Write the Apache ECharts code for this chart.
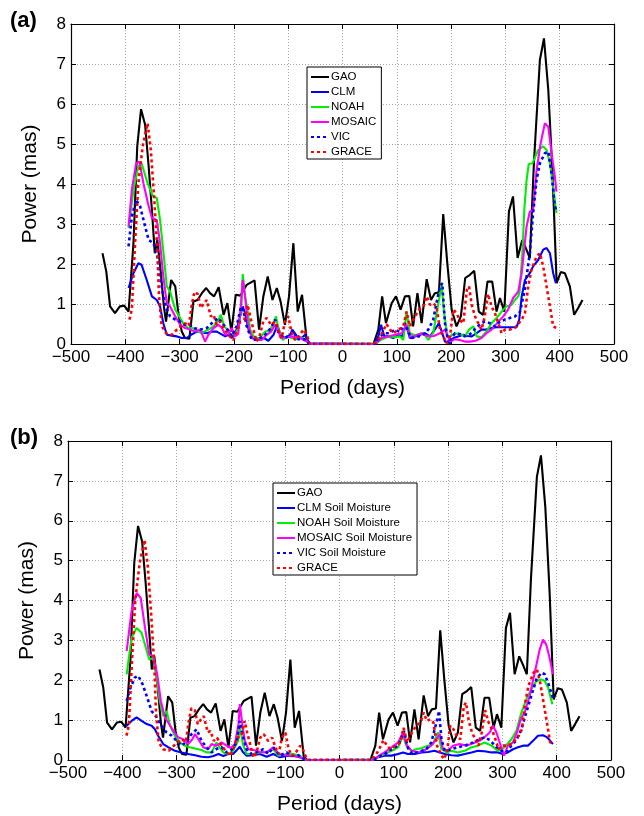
<!DOCTYPE html>
<html>
<head>
<meta charset="utf-8">
<title>Polar motion excitation power spectra</title>
<script src="https://cdn.jsdelivr.net/npm/echarts@6/dist/echarts.min.js"></script>
<style>
  html, body { margin: 0; padding: 0; background: #ffffff; }
  #chart { width: 644px; height: 816px; }
</style>
</head>
<body>
<div id="chart"></div>
<script>
// ---- Atmospheric + oceanic (GAO) reference, used in both panels ----
const gaoPeriod = [-442,-435,-428,-419,-410,-402,-394,-385,-378,-371,-363.5,-357,-351,-345.7,-341,-334.5,-329,-325,-315.6,-308,-302,-296,-290,-282,-274.6,-267,-259,-251,-244,-236.5,-228,-219,-212,-204.6,-196.6,-188,-176.5,-162,-153.7,-145.8,-137.7,-129,-121,-114,-106,-98.5,-90.5,-82.5,-74.5,-66,-60,
  57,66,73,80,90.5,98.5,107,115,123,130,138,145.7,155,163,170,177.6,185.5,193,201,210,218,226,234.7,242.6,251,259,267,275.7,283.7,290,298,306.5,314,322.5,331,339,345,352.5,363.5,371,379,387,394.4,402,409.5,418.7,426.6,434,442];
const gaoPower = [2.27,1.81,0.94,0.77,0.94,0.96,0.81,2.52,4.94,5.87,5.48,4.44,3.35,2.27,2.6,1.77,0.94,0.56,1.6,1.44,0.73,0.31,0.15,0.13,1.06,1.1,1.27,1.4,1.27,1.19,1.42,0.73,1.02,0.31,1.23,1.21,1.48,1.59,0.36,1.19,1.69,1.1,1.4,1.06,0.48,1.19,2.52,0.81,1.23,0.1,0,
  0,0.36,1.19,0.52,1.02,1.19,0.86,1.19,1.2,0.44,1.27,0.52,1.62,1.1,1.27,1.29,3.25,2.02,0.86,0.44,0.69,1.65,1.73,1.83,0.81,0.73,1.56,1.56,0.81,1.15,0.81,3.31,3.69,2.15,2.6,2.35,2.15,4.52,7.1,7.64,6.35,4.19,1.52,1.8,1.77,1.44,0.73,0.9,1.1];

// ---- GRACE observation, used in both panels ----
const gracePeriod = [-392.4,-388,-382,-376,-368,-359,-353,-347,-341,-338,-333,-325,-314.5,-305,-298,-290,-283,-277.6,-272.7,-266.5,-261,-255,-250,-242.6,-237.6,-231.5,-225.5,-219,-210,-201,-194.7,-188.6,-181,-174.7,-170,-164,-158,-152,-146,-139.6,-131.6,-124,-118,-112,-106,-99.7,-93.6,-87.4,-80,-72,-66,-60,
  57,66,74,81,88,93.5,103,112,118,124,133.6,141,149,155,161,167,173,179.5,185.5,192,198,204,210,216,222.5,229,233,238,244,250,256,262,268,274.6,280.7,287,293,299,308,317.5,330,336,342,348,357.4,363.5,369.6,375.8,382,388,394];
const gracePower = [0.61,0.86,2.52,4.02,4.94,5.52,4.85,3.69,2.36,1.2,0.45,0.27,0.23,0.36,0.44,0.52,0.45,0.98,1.3,1.25,0.9,1.02,1.1,0.69,0.73,0.48,0.56,0.4,0.23,0.1,0.31,0.56,0.6,0.98,0.69,0.36,0.06,0.23,0.56,0.65,0.48,0.56,0.31,0.15,0.56,0.69,0.27,0.1,0.2,0.36,0.23,0,
  0,0.1,0.3,0.5,0.35,0.27,0.36,0.44,0.81,0.44,0.69,0.86,0.94,1.19,0.98,1.02,0.94,0.36,0.19,0.02,0.19,0.86,0.77,0.6,0.52,1.36,1.44,0.98,0.69,0.52,0.36,0.69,1.25,0.94,0.77,0.52,0.27,0.36,0.36,0.4,0.61,0.77,1.44,1.86,2.19,2.27,1.94,1.44,0.94,0.44,0.4];

// ---- Panel (a): total land water storage from GLDAS models ----
const clmPeriod = [-394,-385,-376,-370,-360.5,-351,-342,-336,-330,-323.6,-314.5,-305,-296,-287,-279,-268,-259,-250,-241,-231.5,-216,-210,-204,-195,-188.6,-183.7,-179.5,-173,-165,-155,-144.5,-136.5,-127,-120,-114,-106,-96.6,-92.4,-84,-75,-69,-61,
  58,66,71,77,84,93.5,103,110,117,124,133.4,143,152,161,170,177.6,183,188.7,198,204,213,222.5,230,238,247,256,265,274.6,283.8,293,302,311.5,320.6,325.5,330,336,345,351,360.4,369.6,375.8,382,388,393];
const clmPower = [1.4,1.77,2.02,1.98,1.6,1.19,1.1,0.94,0.52,0.23,0.21,0.19,0.15,0.15,0.23,0.31,0.29,0.27,0.31,0.31,0.19,0.23,0.15,0.36,0.69,0.94,0.77,0.36,0.15,0.1,0.15,0.08,0.23,0.48,0.23,0.15,0.23,0.36,0.19,0.15,0.23,0.02,
  0,0.19,0.48,0.19,0.19,0.15,0.23,0.19,0.48,0.15,0.19,0.23,0.27,0.19,0.36,0.52,0.3,0.06,0.02,0.15,0.19,0.23,0.2,0.19,0.27,0.36,0.36,0.4,0.42,0.42,0.42,0.42,0.42,0.61,1.19,1.6,1.77,1.94,2.1,2.36,2.4,2.27,1.77,1.52];

const noahPeriod = [-394,-385,-376,-370,-359,-349,-342,-336,-329,-323.6,-317.5,-308,-299,-292,-284,-275.8,-267,-257.5,-247,-237.6,-228.5,-224,-218,-212,-205.8,-198,-191.8,-186.8,-183.7,-179.5,-175,-170,-162,-152,-142.6,-134,-127,-122.4,-118,-110,-102.7,-93.6,-84,-72,-61,
  63,70,78,87,96,106,112,118,124,133,141,149,158,167,175,182.6,187,193,198,207,216,225.5,233,241,247,256,265,274.6,283.8,293,302,311.4,317.5,323.6,326,331,335,339,343,350,360.4,369.6,375.8,382,388,394];
const noahPower = [2.9,3.85,4.44,4.52,4.02,3.69,3.65,3.1,2.19,1.44,1.31,0.86,0.65,0.48,0.4,0.4,0.31,0.29,0.36,0.44,0.61,0.73,0.44,0.36,0.23,0.25,0.4,0.86,1.75,1.2,0.86,0.36,0.15,0.15,0.31,0.33,0.52,0.69,0.36,0.1,0.19,0.15,0.12,0.15,0,
  0.02,0.1,0.15,0.19,0.17,0.19,0.1,0.81,0.27,0.22,0.25,0.27,0.1,0.27,0.9,1.48,0.8,0.19,0.19,0.27,0.25,0.19,0.36,0.44,0.19,0.17,0.31,0.52,0.65,0.81,0.94,0.98,1.1,1.19,1.3,2.2,3.4,4.1,4.5,4.52,4.85,4.94,4.85,4.52,3.94,3.27];

const mosaicPeriod = [-394,-388,-380,-374,-366.6,-358,-351,-342,-336,-330,-323.6,-317.5,-308,-299,-290,-280.7,-271.5,-262,-253,-247,-237.6,-228.5,-222,-216,-210,-204,-198,-192,-186.8,-183.7,-179.5,-174.5,-167,-158,-149,-139.6,-131.6,-124,-119,-114,-102,-90.5,-78,-66,-60,
  60,72,84,96.6,109,118,124,134,145.7,158,168,179.5,188.7,198,207,216,225.5,234.7,245,256,265,274.6,287,296,305,314.3,323.6,330,339,345,351,357.4,365,372.7,379,385,391,394];
const mosaicPower = [2.94,3.85,4.52,4.56,4.02,3.5,3.15,3.1,2.52,1.69,1.02,0.94,0.69,0.48,0.4,0.36,0.31,0.36,0.06,0.23,0.4,0.48,0.4,0.23,0.25,0.4,0.19,0.25,1.02,1.6,1.19,0.52,0.15,0.1,0.1,0.23,0.31,0.48,0.36,0.15,0.17,0.19,0.15,0.06,0,
  0,0.15,0.19,0.23,0.27,0.48,0.19,0.2,0.27,0.19,0.2,0.27,0.36,0.06,0.12,0.1,0.06,0.06,0.08,0.15,0.27,0.36,0.56,0.69,0.86,1.15,1.31,1.77,2.94,3.31,3.35,4.35,5.02,5.52,5.43,4.77,4.19,3.81];

const vicPeriod = [-394,-388,-380,-372.7,-365,-357,-348,-341,-336,-330,-323.6,-317.5,-308,-299,-290,-282,-274.6,-262,-250,-237.6,-228.5,-219,-211,-204,-195,-186.8,-182,-176.4,-167,-155,-142.6,-132,-124,-118,-108,-98,-90.5,-82,-70,-61,
  60,69,78,87,96.6,106,115,121,127,137,148,158,167,173,179.5,183.7,188.7,195,201,207,216,225.5,235,246,256,262,271.5,280.7,290,299,308,317.5,326.7,335,345,351,357.4,363.5,372.7,379,385,391,395];
const vicPower = [2.44,3.19,3.6,3.44,3.02,2.6,2.52,2.19,1.69,1.19,0.86,0.69,0.61,0.56,0.48,0.48,0.4,0.36,0.4,0.56,0.65,0.48,0.35,0.19,0.44,0.94,0.8,0.44,0.1,0.12,0.23,0.4,0.61,0.27,0.15,0.2,0.31,0.12,0.12,0,
  0,0.19,0.27,0.27,0.36,0.3,0.52,0.3,0.15,0.18,0.22,0.36,0.6,1.02,1.44,1.52,0.52,0.02,0.15,0.27,0.25,0.19,0.25,0.4,0.52,0.56,0.52,0.44,0.56,0.61,0.65,0.69,0.8,1.3,2.27,3.27,4.1,4.52,4.77,4.81,4.27,3.44,3.31];

// ---- Panel (b): soil moisture only ----
const clmSmPeriod = [-392,-383,-373.6,-364.5,-355,-346,-340,-334,-324.7,-315.5,-303,-291,-278.7,-266,-254,-242,-232,-223,-214,-205,-196,-189,-183.5,-178,-171,-159,-146.7,-134,-122,-110,-97,-85,-73,-61,
  59,71,83,96,108,117,126,138.6,151,163,175,184.6,194,206,218,230.6,243,255,267,280,292,301,310,319.5,328.7,338,347,356.3,365.5,374.7,381,387,393];
const clmSmPower = [0.86,0.98,1.07,0.98,0.9,0.86,0.77,0.61,0.4,0.32,0.23,0.19,0.15,0.12,0.08,0.07,0.1,0.15,0.1,0.15,0.15,0.25,0.33,0.2,0.11,0.12,0.15,0.08,0.15,0.07,0.1,0.11,0.07,0,
  0,0.07,0.11,0.11,0.15,0.19,0.15,0.15,0.19,0.2,0.23,0.19,0.15,0.12,0.11,0.15,0.19,0.23,0.22,0.19,0.19,0.15,0.19,0.27,0.32,0.36,0.36,0.48,0.61,0.62,0.58,0.5,0.4];

const noahSmPeriod = [-392,-383,-373.6,-364.5,-356.5,-350.4,-343,-337,-331,-324.7,-318.5,-312,-303,-294,-285,-275.5,-264,-254,-245,-235.6,-226.4,-220,-214,-205,-196,-186.6,-183.5,-178,-171,-159,-146.7,-134,-122,-113,-98,-85,-72,-61,
  62,72,83,96,108,117,123,132.5,141.7,152,163,172,181.5,187.7,197,206,218,230.6,243,255,267,280,292,304,316.6,325.8,335,344,353,362.6,371.8,378,384,392];
const noahSmPower = [2.15,3.06,3.31,3.19,2.81,2.52,2.56,2.07,1.48,1.1,1.23,0.86,0.61,0.44,0.36,0.32,0.28,0.25,0.19,0.19,0.44,0.3,0.19,0.15,0.23,0.48,0.86,0.4,0.15,0.15,0.19,0.2,0.27,0.11,0.14,0.15,0.1,0,
  0.02,0.08,0.15,0.23,0.32,0.61,0.36,0.23,0.27,0.3,0.36,0.4,0.69,0.27,0.19,0.23,0.19,0.23,0.32,0.36,0.44,0.36,0.23,0.32,0.52,0.73,1.19,1.52,1.77,1.98,2.02,1.98,1.82,1.4];

const mosaicSmPeriod = [-392,-383,-373.6,-366,-358,-350.4,-343,-335.7,-329,-321.6,-315.5,-306,-297,-288,-278.7,-271,-266,-260,-251,-242,-235.6,-226.4,-217,-208,-200,-192.7,-186,-183.5,-179,-174.3,-168,-158,-146,-134,-122,-112,-100,-85,-73,-61,
  62,72,83,96,108,117,123,132.5,144.7,157,169,178.5,184.6,190.7,200,209,221,233.7,246,258,267,276.6,282.7,289,296,303,310,319.5,327,333.7,341,350,359.5,368.7,374.7,380.6,387,393];
const mosaicSmPower = [2.73,3.73,4.19,4.06,3.3,2.65,2.6,2.15,1.48,1.07,0.94,0.73,0.57,0.52,0.4,0.52,0.65,0.52,0.32,0.27,0.4,0.36,0.44,0.36,0.3,0.4,0.9,1.4,0.9,0.48,0.27,0.25,0.2,0.19,0.32,0.15,0.12,0.1,0.07,0,
  0,0.1,0.19,0.32,0.44,0.69,0.4,0.23,0.19,0.25,0.36,0.52,0.65,0.27,0.23,0.36,0.4,0.36,0.42,0.48,0.57,0.69,0.86,0.69,0.4,0.11,0.36,0.44,0.7,1.02,1.19,1.6,2.19,2.77,3.02,2.9,2.56,2.15];

const vicSmPeriod = [-392,-384.7,-376.8,-370.7,-362.6,-355,-346,-337,-327.6,-318.5,-309,-300,-291,-282,-272.4,-263,-254,-245,-235.6,-226,-217,-208,-199,-189.6,-183.5,-178,-171,-162,-152.8,-140.6,-131,-122,-110,-97.6,-88,-76,-68,-61,
  62,72,84,96,108,119,126,134,145,160,169,178.5,183.4,187.7,194,206,218,230.6,246,258,267,277,287,298,307,316.6,326,335,344,353,362.6,371.8,378,385,393];
const vicSmPower = [1.48,1.82,2.07,2.11,1.9,1.6,1.23,1.07,0.86,0.69,0.61,0.48,0.36,0.45,0.65,0.77,0.48,0.32,0.19,0.28,0.32,0.19,0.25,0.44,0.98,0.6,0.27,0.15,0.19,0.27,0.15,0.32,0.11,0.19,0.1,0.12,0.05,0,
  0,0.08,0.15,0.27,0.36,0.73,0.3,0.15,0.2,0.27,0.44,0.94,1.23,0.52,0.23,0.27,0.32,0.36,0.44,0.52,0.57,0.5,0.35,0.23,0.19,0.36,0.5,0.77,1.19,1.6,2.02,2.19,2.15,1.9,1.56];

// Axis ticks
const periodTicks = { min: -500, max: 500, step: 100 };
const powerTicks = { min: 0, max: 8, step: 1 };

// Legend labels
const legendA = ['GAO', 'CLM', 'NOAH', 'MOSAIC', 'VIC', 'GRACE'];
const legendB = ['GAO', 'CLM Soil Moisture', 'NOAH Soil Moisture', 'MOSAIC Soil Moisture', 'VIC Soil Moisture', 'GRACE'];

// ---------------------------------------------------------------
const FONT = '"Liberation Sans", Arial, Helvetica, sans-serif';
const pairs = (xs, ys) => xs.map((x, i) => [x, ys[i]]);
const minusFmt = v => (v < 0 ? '\u2212' + Math.abs(v) : String(v));

const styles = [
  { color: '#000000', type: 'solid', width: 2.1 },  // GAO
  { color: '#0000ff', type: 'solid', width: 2.1 },  // CLM
  { color: '#00ee00', type: 'solid', width: 2.1 },  // NOAH
  { color: '#ff00ff', type: 'solid', width: 2.1 },  // MOSAIC
  { color: '#0000ff', type: [3, 3], width: 2.6 },   // VIC
  { color: '#ff0000', type: [3, 3], width: 2.6 }    // GRACE
];

const panels = [
  { grid: { left: 71, right: 30, top: 24, height: 320 }, names: legendA,
    sets: [[gaoPeriod, gaoPower], [clmPeriod, clmPower], [noahPeriod, noahPower],
           [mosaicPeriod, mosaicPower], [vicPeriod, vicPower], [gracePeriod, gracePower]],
    legendPos: { left: 307, top: 67 }, tag: '(a)', tagTop: 10 },
  { grid: { left: 68, right: 33, top: 441, height: 320 }, names: legendB,
    sets: [[gaoPeriod, gaoPower], [clmSmPeriod, clmSmPower], [noahSmPeriod, noahSmPower],
           [mosaicSmPeriod, mosaicSmPower], [vicSmPeriod, vicSmPower], [gracePeriod, gracePower]],
    legendPos: { left: 273, top: 483 }, tag: '(b)', tagTop: 427 }
];

const grid = [], xAxis = [], yAxis = [], series = [], legend = [], graphic = [];
const tickStyle = { show: true, inside: true, length: 5, lineStyle: { color: '#000', width: 1 } };
const axisLine = { show: true, onZero: false, lineStyle: { color: '#000', width: 1.2 } };
const splitLine = { show: true, lineStyle: { color: '#a8a8a8', width: 1, type: [1, 2] } };

panels.forEach((p, k) => {
  grid.push(p.grid);
  const xb = xAxis.length, yb = yAxis.length;
  xAxis.push({
    type: 'value', gridIndex: k, position: 'bottom',
    min: periodTicks.min, max: periodTicks.max, interval: periodTicks.step,
    axisLine, axisTick: tickStyle, splitLine,
    axisLabel: { color: '#000', fontSize: 17, fontFamily: FONT, margin: 5, formatter: minusFmt },
    name: 'Period (days)', nameLocation: 'middle', nameGap: 34,
    nameTextStyle: { color: '#000', fontSize: 21, fontFamily: FONT }
  });
  xAxis.push({
    type: 'value', gridIndex: k, position: 'top',
    min: periodTicks.min, max: periodTicks.max, interval: periodTicks.step,
    axisLine, axisTick: tickStyle, splitLine: { show: false }, axisLabel: { show: false }
  });
  yAxis.push({
    type: 'value', gridIndex: k, position: 'left',
    min: powerTicks.min, max: powerTicks.max, interval: powerTicks.step,
    axisLine, axisTick: tickStyle, splitLine,
    axisLabel: { color: '#000', fontSize: 17, fontFamily: FONT, margin: 5 },
    name: 'Power (mas)', nameLocation: 'middle', nameGap: 30,
    nameTextStyle: { color: '#000', fontSize: 21, fontFamily: FONT }
  });
  yAxis.push({
    type: 'value', gridIndex: k, position: 'right',
    min: powerTicks.min, max: powerTicks.max, interval: powerTicks.step,
    axisLine, axisTick: tickStyle, splitLine: { show: false }, axisLabel: { show: false }
  });

  p.sets.forEach((s, i) => {
    const st = styles[i];
    series.push({
      type: 'line', name: p.names[i], xAxisIndex: xb, yAxisIndex: yb,
      data: pairs(s[0], s[1]), showSymbol: false, symbol: 'none',
      lineStyle: { color: st.color, width: st.width, type: st.type },
      itemStyle: { color: st.color },
      z: 2 + i, silent: true
    });
  });

  // line-only key: the symbol part of each legend icon is made invisible
  legend.push({
    orient: 'vertical', left: p.legendPos.left, top: p.legendPos.top,
    data: p.names, itemWidth: 18, itemHeight: 10, itemGap: 3,
    padding: [4, 5, 1, 3], borderColor: '#000', borderWidth: 1,
    backgroundColor: '#fff', selectedMode: false,
    itemStyle: { opacity: 0 },
    textStyle: { color: '#000', fontSize: 11.5, fontFamily: FONT, padding: [0, 0, 0, -3] }
  });

  graphic.push({
    type: 'text', left: 10, top: p.tagTop,
    style: { text: p.tag, fill: '#000', font: 'bold 22px ' + FONT }
  });
});

const chart = echarts.init(document.getElementById('chart'), null, { renderer: 'canvas' });
chart.setOption({
  animation: false,
  backgroundColor: '#ffffff',
  grid, xAxis, yAxis, series, legend, graphic
});
</script>
</body>
</html>
